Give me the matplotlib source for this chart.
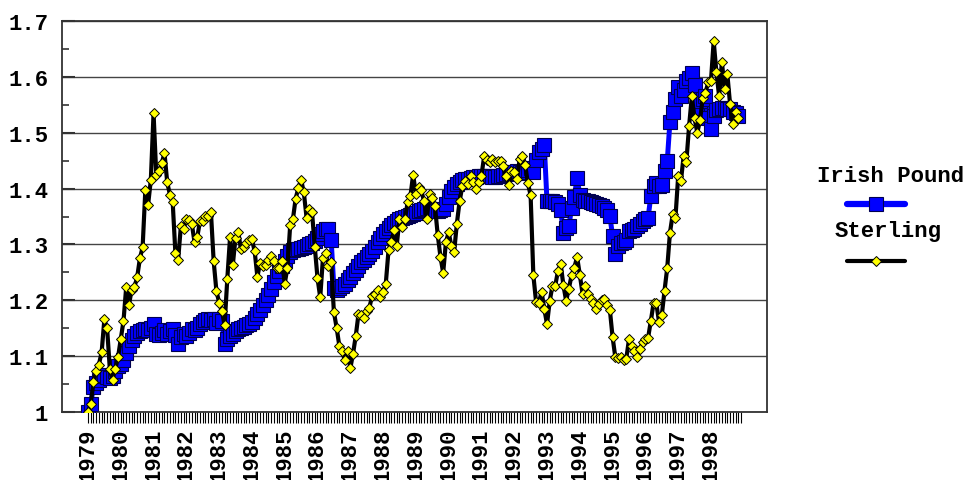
import numpy as np
import matplotlib
matplotlib.use('Agg')
import matplotlib.pyplot as plt
from matplotlib.lines import Line2D
from matplotlib.ticker import MultipleLocator

plt.rcParams['font.family'] = ['Liberation Mono', 'DejaVu Sans Mono']
plt.rcParams['font.weight'] = 'bold'

# monthly index values, Jan 1979 = 1
years = [str(y) for y in range(1979, 1999)]

irish_pound = [
    1.000, 1.014, 1.045, 1.052, 1.058, 1.064, 1.066, 1.063, 1.060, 1.064, 1.074, 1.082,
    1.086, 1.093, 1.105, 1.118, 1.128, 1.136, 1.142, 1.145, 1.147, 1.148, 1.146, 1.150,
    1.158, 1.140, 1.137, 1.142, 1.146, 1.140, 1.145, 1.148, 1.138, 1.122, 1.135, 1.140,
    1.136, 1.142, 1.148, 1.146, 1.151, 1.157, 1.162, 1.165, 1.166, 1.165, 1.166, 1.160,
    1.166, 1.163, 1.121, 1.130, 1.136, 1.140, 1.145, 1.148, 1.151, 1.153, 1.155, 1.158,
    1.162, 1.168, 1.175, 1.183, 1.192, 1.200, 1.210, 1.220, 1.232, 1.243, 1.253, 1.262,
    1.270, 1.279, 1.286, 1.290, 1.291, 1.292, 1.294, 1.296, 1.298, 1.300, 1.303, 1.307,
    1.312, 1.318, 1.324, 1.328, 1.327, 1.308, 1.222, 1.218, 1.222, 1.226, 1.230, 1.236,
    1.242, 1.248, 1.255, 1.262, 1.268, 1.273, 1.278, 1.283, 1.289, 1.296, 1.304, 1.312,
    1.318, 1.324, 1.330, 1.335, 1.339, 1.342, 1.345, 1.347, 1.349, 1.351, 1.353, 1.355,
    1.357, 1.359, 1.361, 1.363, 1.365, 1.363, 1.361, 1.360, 1.360, 1.361, 1.363, 1.372,
    1.385, 1.395, 1.402, 1.408, 1.412, 1.415, 1.417, 1.418, 1.419, 1.420, 1.421, 1.422,
    1.423, 1.423, 1.423, 1.422, 1.421, 1.421, 1.422, 1.423, 1.424, 1.426, 1.428, 1.429,
    1.430, 1.431, 1.429, 1.428, 1.430, 1.433, 1.437, 1.430, 1.452, 1.465, 1.470, 1.478,
    1.377, 1.377, 1.378, 1.376, 1.372, 1.362, 1.321, 1.330, 1.333, 1.365, 1.385, 1.419,
    1.389, 1.380, 1.377, 1.377, 1.376, 1.374, 1.372, 1.371, 1.369, 1.366, 1.362, 1.351,
    1.315, 1.282, 1.298, 1.303, 1.305, 1.308, 1.324, 1.326, 1.328, 1.333, 1.337, 1.342,
    1.345, 1.348, 1.387, 1.405, 1.410, 1.405, 1.407, 1.431, 1.449, 1.520, 1.538, 1.560,
    1.582, 1.565, 1.577, 1.592, 1.598, 1.607, 1.585, 1.545, 1.556, 1.560, 1.565, 1.526,
    1.506, 1.530, 1.541, 1.543, 1.544, 1.544, 1.543, 1.542, 1.538, 1.535, 1.530,
]

sterling = [
    1.000, 1.014, 1.053, 1.073, 1.085, 1.107, 1.166, 1.150, 1.077, 1.058, 1.077, 1.098,
    1.131, 1.163, 1.224, 1.192, 1.219, 1.224, 1.241, 1.275, 1.295, 1.398, 1.371, 1.415,
    1.535, 1.424, 1.432, 1.445, 1.464, 1.411, 1.389, 1.376, 1.284, 1.272, 1.333, 1.328,
    1.345, 1.344, 1.337, 1.304, 1.313, 1.342, 1.342, 1.351, 1.351, 1.358, 1.270, 1.217,
    1.196, 1.181, 1.155, 1.239, 1.313, 1.263, 1.312, 1.322, 1.291, 1.296, 1.302, 1.308,
    1.309, 1.288, 1.242, 1.267, 1.262, 1.264, 1.273, 1.280, 1.270, 1.258, 1.258, 1.270,
    1.230, 1.258, 1.334, 1.345, 1.382, 1.401, 1.416, 1.393, 1.348, 1.364, 1.358, 1.296,
    1.240, 1.205, 1.276, 1.285, 1.261, 1.268, 1.179, 1.151, 1.118, 1.109, 1.093, 1.109,
    1.078, 1.104, 1.136, 1.175, 1.173, 1.169, 1.181, 1.187, 1.208, 1.212, 1.218, 1.206,
    1.215, 1.230, 1.290, 1.305, 1.325, 1.298, 1.345, 1.331, 1.345, 1.376, 1.386, 1.425,
    1.390, 1.403, 1.397, 1.377, 1.346, 1.390, 1.384, 1.368, 1.317, 1.278, 1.249, 1.304,
    1.322, 1.297, 1.286, 1.337, 1.377, 1.404, 1.414, 1.409, 1.423, 1.411, 1.399, 1.411,
    1.423, 1.458, 1.452, 1.448, 1.453, 1.447, 1.450, 1.449, 1.440, 1.422, 1.407, 1.431,
    1.429, 1.417, 1.453, 1.458, 1.442, 1.410, 1.388, 1.245, 1.197, 1.195, 1.215, 1.185,
    1.157, 1.199, 1.226, 1.226, 1.252, 1.265, 1.227, 1.199, 1.221, 1.245, 1.258, 1.278,
    1.246, 1.212, 1.226, 1.211, 1.203, 1.195, 1.184, 1.194, 1.200, 1.203, 1.192, 1.183,
    1.134, 1.098, 1.096, 1.099, 1.093, 1.095, 1.130, 1.118, 1.109, 1.099, 1.112, 1.125,
    1.130, 1.133, 1.163, 1.195, 1.195, 1.161, 1.173, 1.217, 1.258, 1.321, 1.354, 1.347,
    1.422, 1.413, 1.458, 1.448, 1.512, 1.565, 1.526, 1.500, 1.522, 1.563, 1.572, 1.590,
    1.593, 1.664, 1.608, 1.565, 1.627, 1.578, 1.605, 1.551, 1.516, 1.538, 1.526,
]

months = np.arange(len(sterling))

fig = plt.figure(figsize=(9.69, 4.81), dpi=100)
ax = fig.add_axes([0.064, 0.1414, 0.7275, 0.8128])

ax.plot(months, irish_pound, color='#0000ff', lw=3.6, marker='s', ms=9.5,
        mfc='#0000ff', mec='#000050', mew=0.8, zorder=3)
ax.plot(months, sterling, color='black', lw=3.0, marker='D', ms=5.2,
        mfc='#ffff00', mec='black', mew=0.7, zorder=4)

ax.set_ylim(1.0, 1.7)
ax.set_xlim(-9.5, 248.5)
ax.yaxis.set_major_locator(MultipleLocator(0.1))
ax.yaxis.set_minor_locator(MultipleLocator(0.05))
ax.set_yticks(np.arange(1.0, 1.71, 0.1))
ax.set_yticklabels(['1', '1.1', '1.2', '1.3', '1.4', '1.5', '1.6', '1.7'])
ax.grid(axis='y', which='major', color='#444444', lw=1.0)
ax.set_axisbelow(True)
ax.tick_params(axis='y', which='major', direction='in', length=9, width=1.5,
               labelsize=16, pad=10, color='#333333')
ax.tick_params(axis='y', which='minor', direction='in', length=5, width=1.2,
               color='#333333')

ax.set_xticks(np.arange(0, len(years) * 12, 12))
ax.set_xticklabels(years, rotation=90)
ax.set_xticks(np.arange(0, 240), minor=True)
ax.tick_params(axis='x', which='major', direction='out', length=8, width=0.8,
               labelsize=16, pad=3)
ax.tick_params(axis='x', which='minor', direction='out', length=8, width=0.8)

for sp in ax.spines.values():
    sp.set_color('#333333')
    sp.set_linewidth(1.3)

# legend: label above the line sample
W, H = 969.0, 481.0
fig.text(891 / W, 1 - 177 / H, 'Irish Pound', ha='center', va='center',
         fontsize=16, fontweight='bold')
fig.add_artist(Line2D([847 / W, 905 / W], [1 - 205 / H] * 2, color='#0000ff',
                      lw=4.5, solid_capstyle='round', transform=fig.transFigure))
fig.add_artist(Line2D([876 / W], [1 - 205 / H], marker='s', ms=9.5, mfc='#0000ff',
                      mec='#000050', mew=0.8, transform=fig.transFigure))
fig.text(888 / W, 1 - 232 / H, 'Sterling', ha='center', va='center',
         fontsize=16, fontweight='bold')
fig.add_artist(Line2D([847 / W, 905 / W], [1 - 262 / H] * 2, color='black',
                      lw=3.0, solid_capstyle='round', transform=fig.transFigure))
fig.add_artist(Line2D([876 / W], [1 - 262 / H], marker='D', ms=5.2, mfc='#ffff00',
                      mec='black', mew=0.7, transform=fig.transFigure))

fig.savefig('out.png', dpi=100)
